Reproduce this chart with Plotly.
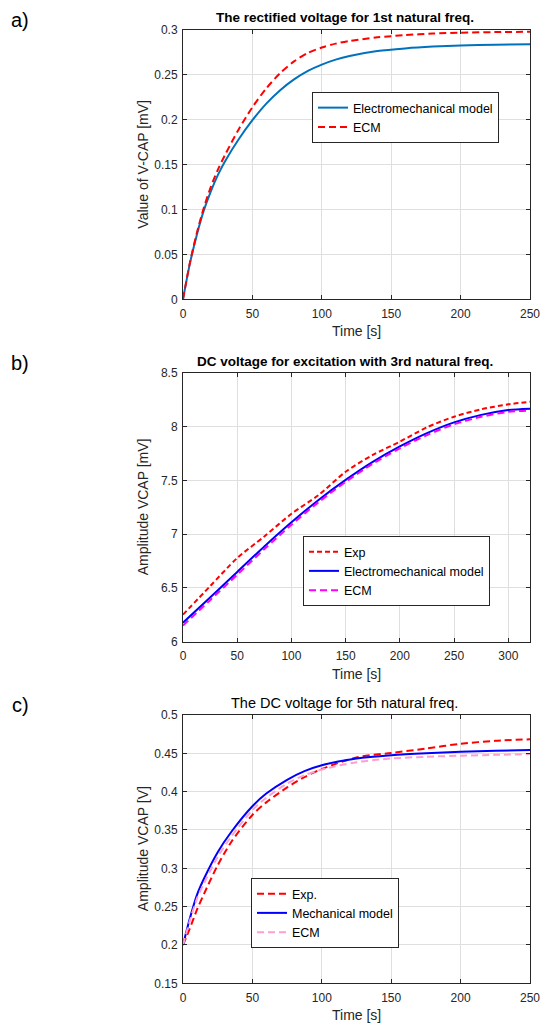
import plotly.graph_objects as go

# ---------------- Data ----------------
# Panel a) rectified voltage, 1st natural frequency
t_a = [0, 5, 10, 15, 20, 25, 30, 40, 50, 60, 70, 80, 90, 100, 110, 120, 140, 160, 180, 200, 225, 250]
emm_a = [0, 0.040, 0.072, 0.099, 0.120, 0.138, 0.153, 0.178, 0.1995, 0.218, 0.233, 0.245, 0.2545,
         0.2615, 0.267, 0.271, 0.2765, 0.2795, 0.2815, 0.2828, 0.2836, 0.284]
ecm_a = [0, 0.041, 0.074, 0.102, 0.125, 0.144, 0.160, 0.189, 0.214, 0.235, 0.252, 0.265, 0.2745,
         0.2805, 0.2848, 0.2878, 0.2918, 0.2943, 0.2960, 0.2970, 0.2977, 0.298]

# Panel b) DC voltage, 3rd natural frequency
t_b = [0, 25, 50, 75, 100, 125, 150, 175, 200, 225, 250, 275, 300, 320]
exp_b = [6.25, 6.515, 6.777, 6.978, 7.189, 7.363, 7.58, 7.737, 7.861, 7.994, 8.093, 8.162, 8.208, 8.232]
emm_b = [6.175, 6.41, 6.648, 6.885, 7.11, 7.318, 7.505, 7.673, 7.816, 7.94, 8.04, 8.11, 8.155, 8.168]
ecm_b = [6.148, 6.385, 6.622, 6.86, 7.087, 7.297, 7.486, 7.655, 7.798, 7.922, 8.022, 8.092, 8.138, 8.15]

# Panel c) DC voltage, 5th natural frequency
t_c = [0, 5, 10, 15, 25, 35, 50, 60, 75, 87.5, 100, 125, 150, 175, 200, 225, 250]
exp_c = [0.2, 0.222, 0.2457, 0.266, 0.304, 0.335, 0.3696, 0.386, 0.4055, 0.419, 0.4295, 0.4447,
         0.4505, 0.4562, 0.4625, 0.4663, 0.4683]
mm_c = [0.2, 0.235, 0.265, 0.286, 0.321, 0.348, 0.381, 0.3975, 0.4155, 0.4268, 0.4345, 0.4433,
        0.4476, 0.4502, 0.452, 0.4533, 0.4543]
ecm_c = [0.2, 0.232, 0.26, 0.28, 0.315, 0.342, 0.376, 0.392, 0.4105, 0.4215, 0.4288, 0.4385,
         0.4432, 0.4455, 0.4469, 0.448, 0.449]

titles = ["The rectified voltage for 1st natural freq.",
          "DC voltage for excitation with 3rd natural freq.",
          "The DC voltage for 5th natural freq."]
ytitles = ["Value of V-CAP [mV]", "Amplitude VCAP [mV]", "Amplitude VCAP [V]"]
panel_labels = ["a)", "b)", "c)"]

# ---------------- Layout geometry (pixels) ----------------
W, H = 541, 1023
FONT = "Liberation Sans, Arial, sans-serif"
TXT = "#262626"
x_left, x_right = 183, 530
panels_px = [(30, 299.3), (373, 641.5), (715, 983.3)]  # (top, bottom)


def fy(px):
    return 1 - px / H


def fx(px):
    return px / W


fig = go.Figure()

DASH = "7px,4px"
SPL = dict(shape="spline", smoothing=0.8)

fig.add_trace(go.Scatter(x=t_a, y=emm_a, name="Electromechanical model", mode="lines",
                         line=dict(color="#0072BD", width=2, **SPL),
                         xaxis="x", yaxis="y", legend="legend"))
fig.add_trace(go.Scatter(x=t_a, y=ecm_a, name="ECM", mode="lines",
                         line=dict(color="#FF0000", width=2, dash=DASH, **SPL),
                         xaxis="x", yaxis="y", legend="legend"))

fig.add_trace(go.Scatter(x=t_b, y=exp_b, name="Exp", mode="lines",
                         line=dict(color="#FF0000", width=2, dash="5px,3px", **SPL),
                         xaxis="x2", yaxis="y2", legend="legend2"))
fig.add_trace(go.Scatter(x=t_b, y=emm_b, name="Electromechanical model", mode="lines",
                         line=dict(color="#0000FF", width=2, **SPL),
                         xaxis="x2", yaxis="y2", legend="legend2"))
fig.add_trace(go.Scatter(x=t_b, y=ecm_b, name="ECM", mode="lines",
                         line=dict(color="#FF00FF", width=2, dash=DASH, **SPL),
                         xaxis="x2", yaxis="y2", legend="legend2"))

fig.add_trace(go.Scatter(x=t_c, y=exp_c, name="Exp.", mode="lines",
                         line=dict(color="#FF0000", width=2, dash=DASH, **SPL),
                         xaxis="x3", yaxis="y3", legend="legend3"))
fig.add_trace(go.Scatter(x=t_c, y=mm_c, name="Mechanical model", mode="lines",
                         line=dict(color="#0000FF", width=2, **SPL),
                         xaxis="x3", yaxis="y3", legend="legend3"))
fig.add_trace(go.Scatter(x=t_c, y=ecm_c, name="ECM", mode="lines",
                         line=dict(color="#FF9ECF", width=2, dash=DASH, **SPL),
                         xaxis="x3", yaxis="y3", legend="legend3"))

axis_common = dict(showline=True, linecolor=TXT, linewidth=1, mirror="ticks",
                   ticks="inside", ticklen=4, tickcolor=TXT, showgrid=True,
                   gridcolor="#DFDFDF", gridwidth=1, zeroline=False,
                   tickfont=dict(family=FONT, size=12, color=TXT), automargin=False)

xranges = [[0, 250], [0, 320], [0, 250]]
yranges = [[0, 0.3], [6, 8.5], [0.15, 0.5]]
ydticks = [0.05, 0.5, 0.05]

layout = dict(width=W, height=H, margin=dict(l=0, r=0, t=0, b=0),
              paper_bgcolor="white", plot_bgcolor="white",
              font=dict(family=FONT, size=12, color=TXT), showlegend=True)

annotations = []
for i in range(3):
    top, bot = panels_px[i]
    sx = "" if i == 0 else str(i + 1)
    layout["xaxis" + sx] = dict(axis_common, domain=[fx(x_left), fx(x_right)], range=xranges[i],
                                dtick=50, tick0=0, anchor="y" + sx, ticklabelstandoff=3)
    layout["yaxis" + sx] = dict(axis_common, domain=[fy(bot), fy(top)], range=yranges[i],
                                dtick=ydticks[i], tick0=0, anchor="x" + sx, ticklabelstandoff=2)
    # title
    annotations.append(dict(text=("<b>%s</b>" % titles[i]) if i < 2 else titles[i],
                            x=fx(344.5), y=fy(top - 12), xref="paper", yref="paper",
                            showarrow=False, xanchor="center", yanchor="middle",
                            font=dict(family=FONT, size=13.5 if i < 2 else 14.5, color="black")))
    # x title
    annotations.append(dict(text="Time [s]", x=fx((x_left + x_right) / 2), y=fy(bot + 32),
                            xref="paper", yref="paper", showarrow=False,
                            xanchor="center", yanchor="middle",
                            font=dict(family=FONT, size=14, color=TXT)))
    # y title
    annotations.append(dict(text=ytitles[i], x=fx(143), y=fy((top + bot) / 2),
                            xref="paper", yref="paper", showarrow=False, textangle=-90,
                            xanchor="center", yanchor="middle",
                            font=dict(family=FONT, size=14, color=TXT)))
    # panel label
    annotations.append(dict(text=panel_labels[i], x=fx(20), y=fy(top - 10),
                            xref="paper", yref="paper", showarrow=False,
                            xanchor="center", yanchor="middle",
                            font=dict(family=FONT, size=20, color="black")))

layout["annotations"] = annotations

leg_common = dict(bgcolor="white", bordercolor=TXT, borderwidth=1,
                  font=dict(family=FONT, size=12.5, color="black"),
                  xanchor="left", yanchor="top", itemwidth=30, tracegroupgap=0,
                  xref="paper", yref="paper")
layout["legend"] = dict(leg_common, x=fx(312), y=fy(92))
layout["legend2"] = dict(leg_common, x=fx(303), y=fy(536))
layout["legend3"] = dict(leg_common, x=fx(251), y=fy(878))

fig.update_layout(**layout)
fig.write_html("out.html", config={"displayModeBar": False},
               post_script="document.body.style.margin='0px';")
